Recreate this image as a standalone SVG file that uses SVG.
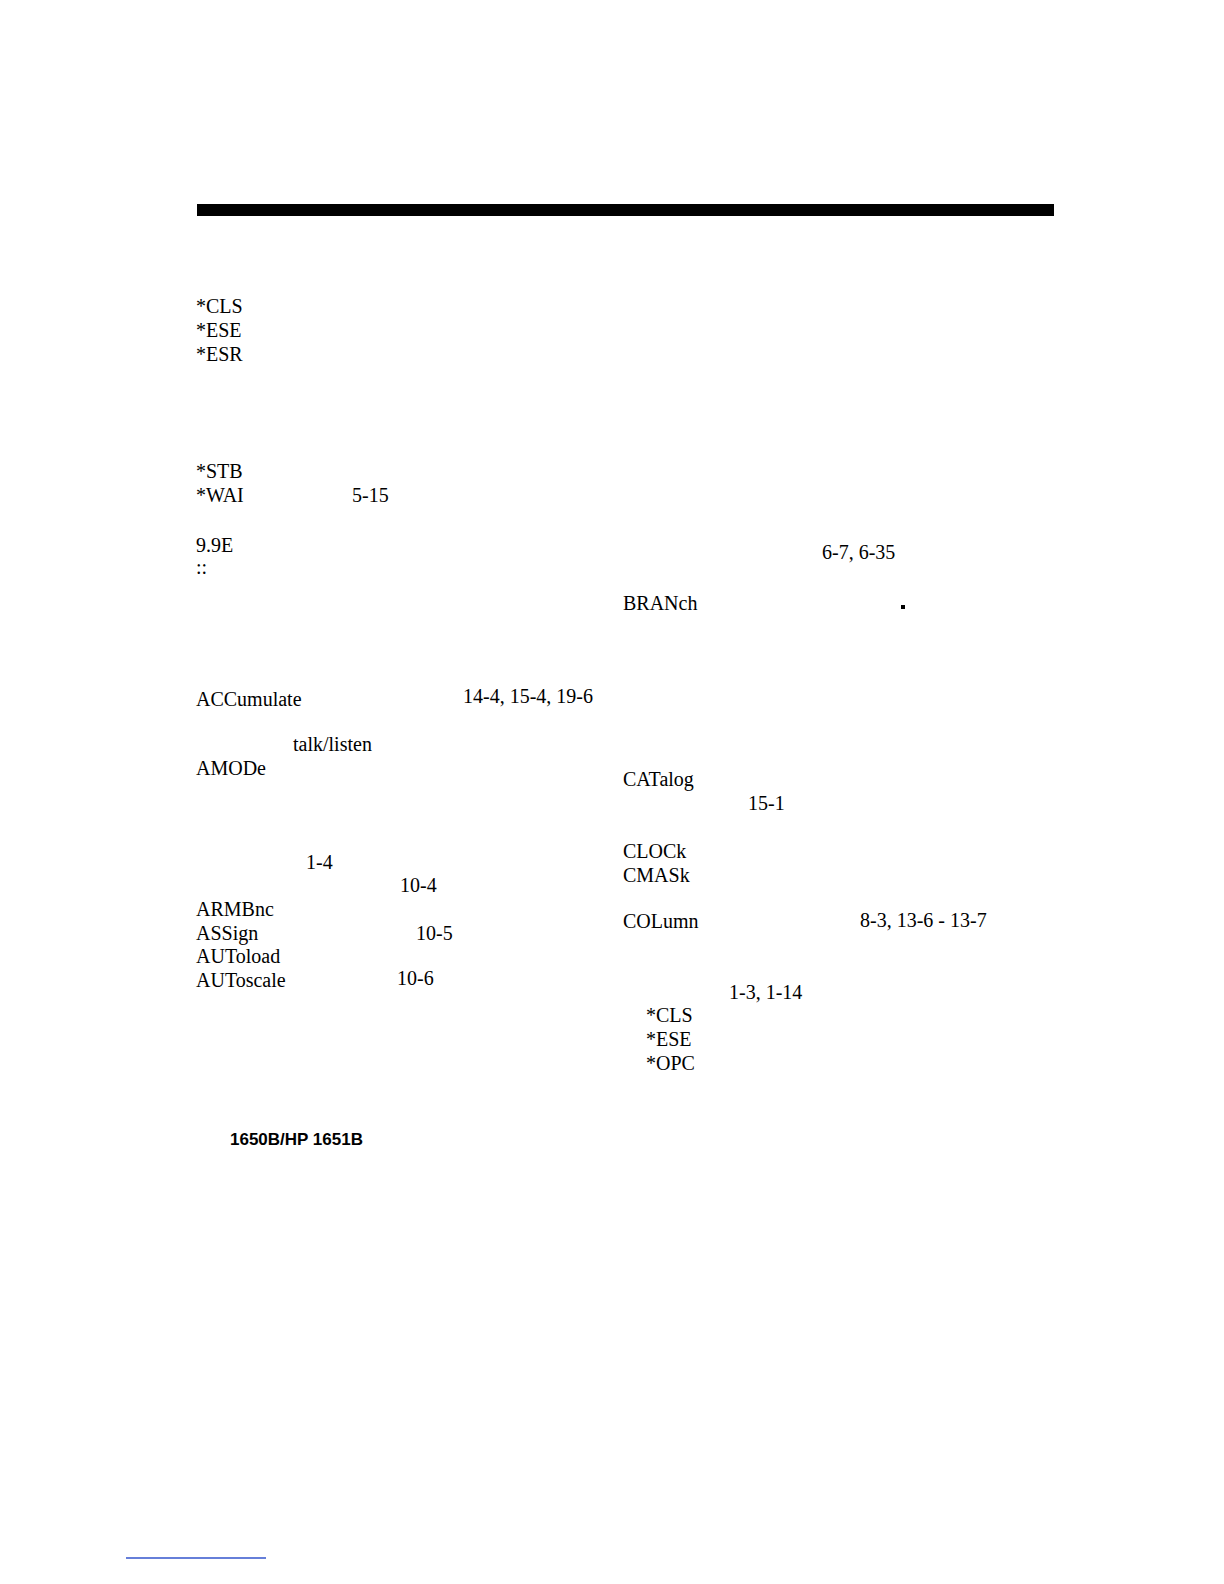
<svg xmlns="http://www.w3.org/2000/svg" width="1224" height="1584" viewBox="0 0 1224 1584">
<style>
text{font-family:"Liberation Serif","Times New Roman",serif;font-size:20px;fill:#000}
.b{font-family:"Liberation Sans",Arial,sans-serif;font-weight:bold;font-size:17px}
</style>
<rect width="1224" height="1584" fill="#fff"/>
<rect x="197" y="204" width="857" height="12" fill="#000"/>
<g id="left">
<text x="196" y="313">*CLS</text>
<text x="196" y="337">*ESE</text>
<text x="196" y="361">*ESR</text>
<text x="196" y="478">*STB</text>
<text x="196" y="502">*WAI</text>
<text x="352" y="502">5-15</text>
<text x="196" y="552">9.9E</text>
<text x="196" y="574">::</text>
<text x="196" y="706">ACCumulate</text>
<text x="463" y="703">14-4, 15-4, 19-6</text>
<text x="293" y="751">talk/listen</text>
<text x="196" y="775">AMODe</text>
<text x="306" y="869">1-4</text>
<text x="400" y="892">10-4</text>
<text x="196" y="916">ARMBnc</text>
<text x="196" y="940">ASSign</text>
<text x="416" y="940">10-5</text>
<text x="196" y="963">AUToload</text>
<text x="196" y="987">AUToscale</text>
<text x="397" y="985">10-6</text>
<text class="b" x="230" y="1145">1650B/HP 1651B</text>
</g>
<g id="right">
<text x="822" y="559">6-7, 6-35</text>
<text x="623" y="610">BRANch</text>
<rect x="901" y="605" width="4" height="4" fill="#000"/>
<text x="623" y="786">CATalog</text>
<text x="748" y="810">15-1</text>
<text x="623" y="858">CLOCk</text>
<text x="623" y="882">CMASk</text>
<text x="623" y="928">COLumn</text>
<text x="860" y="927">8-3, 13-6 - 13-7</text>
<text x="729" y="999">1-3, 1-14</text>
<text x="646" y="1022">*CLS</text>
<text x="646" y="1046">*ESE</text>
<text x="646" y="1070">*OPC</text>
</g>
<line x1="126" y1="1558" x2="266" y2="1558" stroke="#3355cc" stroke-width="1.5"/>
</svg>
